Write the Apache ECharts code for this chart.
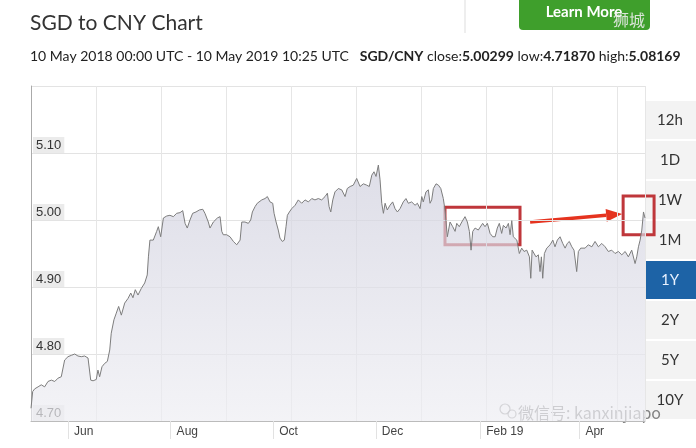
<!DOCTYPE html>
<html><head><meta charset="utf-8">
<script src="https://cdn.jsdelivr.net/npm/echarts@6/dist/echarts.min.js"></script>
<style>html,body{margin:0;padding:0;background:#fff}#c{width:696px;height:448px}</style>
</head><body><div id="c"></div>
<script>
// Days since 10 May 2018 00:00 UTC
const days = [0,1,2.2,4.2,6.1,8.1,10.1,12.1,14.1,16.1,18,19,20,22,24,26,27.9,29.9,31.9,33.9,34.9,35.5,36.9,38.8,39.8,40.8,42.2,43.8,45.4,46.8,47.7,49.3,50.7,52.1,53.7,55.7,57.7,59.3,60.6,62,63.6,65.6,67.6,69.1,69.8,70.7,72.7,74.7,75.7,77.1,78.7,80.7,82.6,84.6,86.6,88.6,90.2,91.6,92.9,94.5,96.1,98.1,100.1,102.1,103.4,105.4,106.4,108.4,109.4,110.8,112.4,113.4,114.3,116.3,118.3,120.3,122.3,124.3,125.3,127.2,129.2,130.6,131.6,133.2,134.5,135.1,137.2,139.1,140.5,142.1,143.7,144.5,145.7,147,148,149.4,150.6,151.6,152.4,153.6,155,157,158.9,160.9,162.9,164.9,166.9,168.8,170.8,172.8,174.8,176.2,177.2,178.2,179.4,180.7,182.7,184.7,186.7,188,189.7,191.6,193.6,195.6,197.6,199.6,201.1,202.6,203.9,205.1,206.5,207.5,208.5,209.5,210.5,211.8,213.4,215,216.4,217.8,219.4,221.3,222.9,224.3,226.3,228.3,229.7,231.3,232.3,233.2,234.8,236.2,237.2,238.2,239.2,240.8,242.2,243.6,245.1,246.1,247.5,249.1,250.7,252.1,253.1,254.6,256.1,258,259.4,260.6,261.6,262.6,264,265.9,266.9,268.5,269.9,271.3,272.9,274.5,275.9,277.2,278.4,279.8,280.8,282.4,283.8,284.8,285.8,286.7,288.8,290.3,291.7,293.1,294.7,296.3,297.1,297.9,299,300.2,301.6,302.6,303.4,304.2,305.2,306.6,308.6,310.2,311.5,312.9,314.5,316.1,317.5,318.8,320,321.5,322.8,324.4,325.4,326.8,329.4,331.3,333.4,335.3,337.3,339.3,341.3,343.2,345.2,347.2,349.2,351.2,353.2,355.1,357.1,359.1,360.1,361.1,362.1,363.1,364.1,365];
const rates = [4.719,4.744,4.748,4.751,4.754,4.751,4.759,4.761,4.759,4.764,4.766,4.766,4.791,4.796,4.798,4.800,4.797,4.796,4.797,4.794,4.794,4.761,4.760,4.762,4.776,4.766,4.781,4.786,4.789,4.806,4.831,4.851,4.861,4.871,4.858,4.876,4.883,4.891,4.884,4.896,4.888,4.898,4.906,4.918,4.945,4.970,4.970,4.983,4.990,4.975,5.003,5.006,5.007,5.005,5.010,5.011,5.014,4.995,4.988,5.000,5.010,5.012,5.015,5.016,5.010,4.997,4.988,4.997,4.995,5.003,5.005,4.983,4.978,4.978,4.975,4.968,4.963,4.970,4.997,4.997,4.995,5.000,5.012,5.020,5.025,5.027,5.030,5.032,5.035,5.027,5.025,5.010,4.997,4.985,4.973,4.968,4.970,4.990,5.007,5.012,5.017,5.022,5.030,5.025,5.030,5.027,5.032,5.030,5.032,5.030,5.035,5.040,5.020,5.012,5.030,5.042,5.047,5.045,5.035,5.047,5.050,5.052,5.062,5.050,5.054,5.052,5.050,5.067,5.072,5.065,5.082,5.060,5.025,5.010,5.025,5.015,5.022,5.027,5.017,5.012,5.017,5.027,5.032,5.025,5.027,5.022,5.025,5.017,5.035,5.027,5.042,5.045,5.025,5.030,5.047,5.054,5.052,5.047,5.032,5.015,4.975,4.997,4.990,4.983,4.995,4.990,4.997,5.005,4.997,4.983,4.955,4.983,4.988,4.985,4.983,4.995,4.990,4.995,4.980,4.975,4.975,4.988,4.995,4.980,4.992,4.988,4.995,4.978,4.999,4.975,4.970,4.950,4.958,4.953,4.955,4.945,4.913,4.955,4.953,4.945,4.948,4.923,4.945,4.913,4.950,4.958,4.963,4.970,4.960,4.970,4.975,4.965,4.958,4.965,4.968,4.960,4.955,4.923,4.953,4.958,4.958,4.963,4.960,4.968,4.960,4.965,4.960,4.953,4.955,4.950,4.953,4.948,4.953,4.945,4.955,4.935,4.945,4.960,4.970,4.985,5.012,5.003];
const monthTicks = [22, 83, 144, 205, 267, 326];
const monthLabels = ['Jun', 'Aug', 'Oct', 'Dec', 'Feb 19', 'Apr'];
const rangeButtons = ['12h', '1D', '1W', '1M', '1Y', '2Y', '5Y', '10Y'];
const selectedRange = '1Y';
// annotation boxes in data units [day0, val0, day1, val1]
const boxes = [[246.1, 5.019, 290.7, 4.963], [352, 5.036, 370.4, 4.978]];
const arrow = [[296.7, 4.997], [351.4, 5.009]];

const chart = echarts.init(document.getElementById('c'));
const font = 'Lato, "Liberation Sans", sans-serif';
const seriesData = days.map((d, i) => [d, rates[i]]);

const graphics = [
  {type:'text', x:30, y:23, style:{text:'SGD to CNY Chart', font:'21px ' + font, fill:'#333', verticalAlign:'middle'}},
  {type:'text', x:30, y:56, style:{
    text:'10 May 2018 00:00 UTC - 10 May 2019 10:25 UTC   {b|SGD/CNY} close:{b|5.00299} low:{b|4.71870} high:{b|5.08169}',
    font:'14px ' + font, fill:'#222', verticalAlign:'middle',
    rich:{b:{fontWeight:'bold', fontSize:14, fontFamily:'Lato, "Liberation Sans", sans-serif', fill:'#222'}}}},
  {type:'line', shape:{x1:465, y1:0, x2:465, y2:33}, style:{stroke:'#dddddd', lineWidth:1}},
  {type:'rect', shape:{x:519, y:-6, width:131, height:36, r:4}, style:{fill:'#3f9f2c'}},
  {type:'text', x:584, y:12, style:{text:'Learn More', font:'bold 15px ' + font, fill:'#ffffff', align:'center', verticalAlign:'middle'}},
  {type:'text', x:629, y:20, style:{text:'狮城', font:'16px "Noto Sans CJK SC"', fill:'rgba(235,235,235,0.9)', align:'center', verticalAlign:'middle'}}
];
rangeButtons.forEach((b, i) => {
  const sel = b === selectedRange;
  graphics.push({type:'rect', shape:{x:646, y:101 + i * 40, width:50, height:38}, style:{fill: sel ? '#1d63a6' : '#f3f3f3'}});
  graphics.push({type:'text', x:670, y:120 + i * 40, style:{text:b, font:'15px ' + font, fill: sel ? '#e8f2ff' : '#333', align:'center', verticalAlign:'middle'}});
});
graphics.push(
  {type:'text', x:518, y:413, style:{text:'微信号: kanxinjiapo', font:'16px "Noto Sans CJK SC"', fill:'rgba(110,110,110,0.85)', verticalAlign:'middle'}},
  {type:'circle', shape:{cx:505, cy:409, r:5}, style:{fill:'none', stroke:'rgba(130,130,130,0.8)', lineWidth:1.2}},
  {type:'circle', shape:{cx:512, cy:414, r:4}, style:{fill:'none', stroke:'rgba(130,130,130,0.8)', lineWidth:1.2}}
);

chart.setOption({
  animation:false,
  backgroundColor:'#ffffff',
  grid:{left:31, right:51, top:86, bottom:27},
  xAxis:[{
    type:'value', min:0, max:365,
    axisLine:{show:true, lineStyle:{color:'#bbbbbb'}},
    splitLine:{show:false},
    axisTick:{show:true, customValues:monthTicks, length:18, lineStyle:{color:'#e2e2e2'}},
    axisLabel:{customValues:monthTicks, formatter:(v) => monthLabels[monthTicks.indexOf(v)], align:'left', padding:[0,0,0,6], margin:5, color:'#444', fontSize:12, fontFamily:'"Liberation Sans", Arial, sans-serif'}
  },{
    type:'value', min:0, max:365, interval:38.7, position:'bottom',
    axisLine:{show:false}, axisTick:{show:false}, axisLabel:{show:false},
    splitLine:{show:true, lineStyle:{color:'#e6e6e6'}}
  }],
  yAxis:{
    type:'value', min:4.7, max:5.2, interval:0.1,
    axisLine:{show:true, lineStyle:{color:'#aaaaaa'}},
    axisTick:{show:false},
    splitLine:{lineStyle:{color:'#e3e3e3'}},
    axisLabel:{inside:true, margin:2, verticalAlign:'bottom', showMaxLabel:false,
      formatter:(v) => v.toFixed(2), color:'#333', fontSize:13, fontFamily:'"Liberation Sans", Arial, sans-serif',
      backgroundColor:'#ebebeb', padding:[2,3,1,3]}
  },
  series:[{
    type:'line', xAxisIndex:0, data:seriesData, showSymbol:false,
    lineStyle:{color:'#7d7d7d', width:1},
    areaStyle:{origin:'start', color:new echarts.graphic.LinearGradient(0,0,0,1,[{offset:0,color:'#d0d0de'},{offset:1,color:'#eeeef3'}])}
  }],
  graphic:graphics
});

// annotations through the chart's own scales
const px = (p) => chart.convertToPixel({xAxisIndex:0, yAxisIndex:0}, p);
const ann = [];
boxes.forEach(b => {
  const a = px([b[0], b[1]]), c = px([b[2], b[3]]);
  ann.push({type:'rect', shape:{x:a[0], y:a[1], width:c[0]-a[0], height:c[1]-a[1]}, style:{fill:'none', stroke:'#bf373b', lineWidth:3}});
});
const s = px(arrow[0]), e = px(arrow[1]);
const ang = Math.atan2(e[1]-s[1], e[0]-s[0]);
const hl = 16, hw = 6.5;
const bx = e[0] - hl*Math.cos(ang), by = e[1] - hl*Math.sin(ang);
ann.push({type:'line', shape:{x1:s[0], y1:s[1], x2:bx, y2:by}, style:{stroke:'#e5331f', lineWidth:3.5}});
ann.push({type:'polygon', shape:{points:[[e[0],e[1]],[bx - hw*Math.sin(ang), by + hw*Math.cos(ang)],[bx + hw*Math.sin(ang), by - hw*Math.cos(ang)]]}, style:{fill:'#e5331f'}});
chart.setOption({graphic: graphics.concat(ann)});
</script></body></html>
